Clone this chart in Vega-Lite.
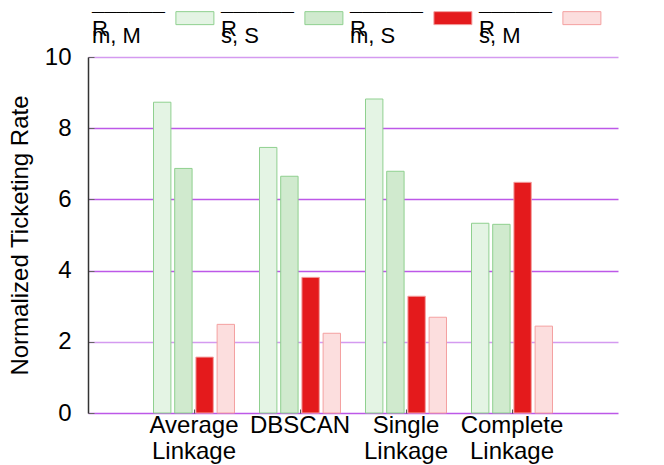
{
  "$schema": "https://vega.github.io/schema/vega-lite/v6.json",
  "width": 530,
  "height": 356,
  "autosize": {"type": "none"},
  "padding": {"left": 88, "top": 57, "right": 46, "bottom": 52},
  "config": {
    "font": "Liberation Sans",
    "view": {"stroke": null},
    "style": {"guide-label": {"lineHeight": 7}}
  },
  "data": {
    "values": [
      {"group": "Average Linkage", "series": "m, M", "value": 8.73},
      {"group": "Average Linkage", "series": "s, S", "value": 6.87},
      {"group": "Average Linkage", "series": "m, S", "value": 1.57},
      {"group": "Average Linkage", "series": "s, M", "value": 2.49},
      {"group": "DBSCAN", "series": "m, M", "value": 7.46},
      {"group": "DBSCAN", "series": "s, S", "value": 6.65},
      {"group": "DBSCAN", "series": "m, S", "value": 3.81},
      {"group": "DBSCAN", "series": "s, M", "value": 2.24},
      {"group": "Single Linkage", "series": "m, M", "value": 8.82},
      {"group": "Single Linkage", "series": "s, S", "value": 6.79},
      {"group": "Single Linkage", "series": "m, S", "value": 3.28},
      {"group": "Single Linkage", "series": "s, M", "value": 2.69},
      {"group": "Complete Linkage", "series": "m, M", "value": 5.33},
      {"group": "Complete Linkage", "series": "s, S", "value": 5.30},
      {"group": "Complete Linkage", "series": "m, S", "value": 6.48},
      {"group": "Complete Linkage", "series": "s, M", "value": 2.44}
    ]
  },
  "mark": {"type": "bar", "strokeWidth": 1},
  "encoding": {
    "x": {
      "field": "group",
      "type": "nominal",
      "sort": ["Average Linkage", "DBSCAN", "Single Linkage", "Complete Linkage"],
      "scale": {"paddingInner": 0, "paddingOuter": 0.5},
      "axis": {
        "title": null,
        "labelAngle": 0,
        "labelExpr": "split(datum.label, ' ')",
        "labelFontSize": 24,
        "labelLineHeight": 26,
        "labelColor": "#000",
        "labelFont": "Liberation Sans",
        "domain": false,
        "ticks": true,
        "tickSize": -4,
        "tickColor": "#555",
        "labelPadding": 4,
        "grid": false
      }
    },
    "xOffset": {
      "field": "series",
      "type": "nominal",
      "sort": ["m, M", "s, S", "m, S", "s, M"],
      "scale": {"paddingInner": 0.18, "paddingOuter": 0.59}
    },
    "y": {
      "field": "value",
      "type": "quantitative",
      "scale": {"domain": [0, 10], "nice": false},
      "axis": {
        "title": "Normalized Ticketing Rate",
        "values": [0, 2, 4, 6, 8, 10],
        "grid": true,
        "gridColor": {"condition": {"test": "datum.value == 10 || datum.value == 2", "value": "#d49af0"}, "value": "#bd58e8"},
        "gridWidth": 1.5,
        "gridOpacity": 1,
        "domainColor": "#333",
        "domainWidth": 1.5,
        "ticks": true,
        "tickSize": -6,
        "tickColor": "#666",
        "labelPadding": 23,
        "labelFontSize": 24,
        "labelColor": "#000",
        "titleFontSize": 24,
        "titleFontWeight": "normal",
        "titleColor": "#000",
        "titlePadding": 12
      }
    },
    "fill": {
      "field": "series",
      "type": "nominal",
      "sort": ["m, M", "s, S", "m, S", "s, M"],
      "scale": {"domain": ["m, M", "s, S", "m, S", "s, M"], "range": ["#e4f4e4", "#d0eace", "#e41a1c", "#fcdede"]},
      "legend": {
        "title": null,
        "orient": "top",
        "direction": "horizontal",
        "columns": 4,
        "symbolType": "M-1,-0.532H1V0.152H-1Z",
        "symbolSize": 1444,
        "symbolStrokeWidth": 1,
        "labelOffset": -122.4,
        "symbolOffset": 87.4,
        "columnPadding": 1,
        "labelFontSize": 22,
        "labelFont": "Liberation Sans",
        "labelColor": "#000",
        "labelBaseline": "alphabetic",
        "labelLimit": 0,
        "labelExpr": "['', '¯¯¯¯¯¯', ' R', '   ' + datum.label]",
        "offset": 10
      }
    },
    "stroke": {
      "field": "series",
      "type": "nominal",
      "sort": ["m, M", "s, S", "m, S", "s, M"],
      "scale": {"domain": ["m, M", "s, S", "m, S", "s, M"], "range": ["#8fd08f", "#8fd08f", "#f3a0a0", "#f4a0a0"]}
    }
  }
}
